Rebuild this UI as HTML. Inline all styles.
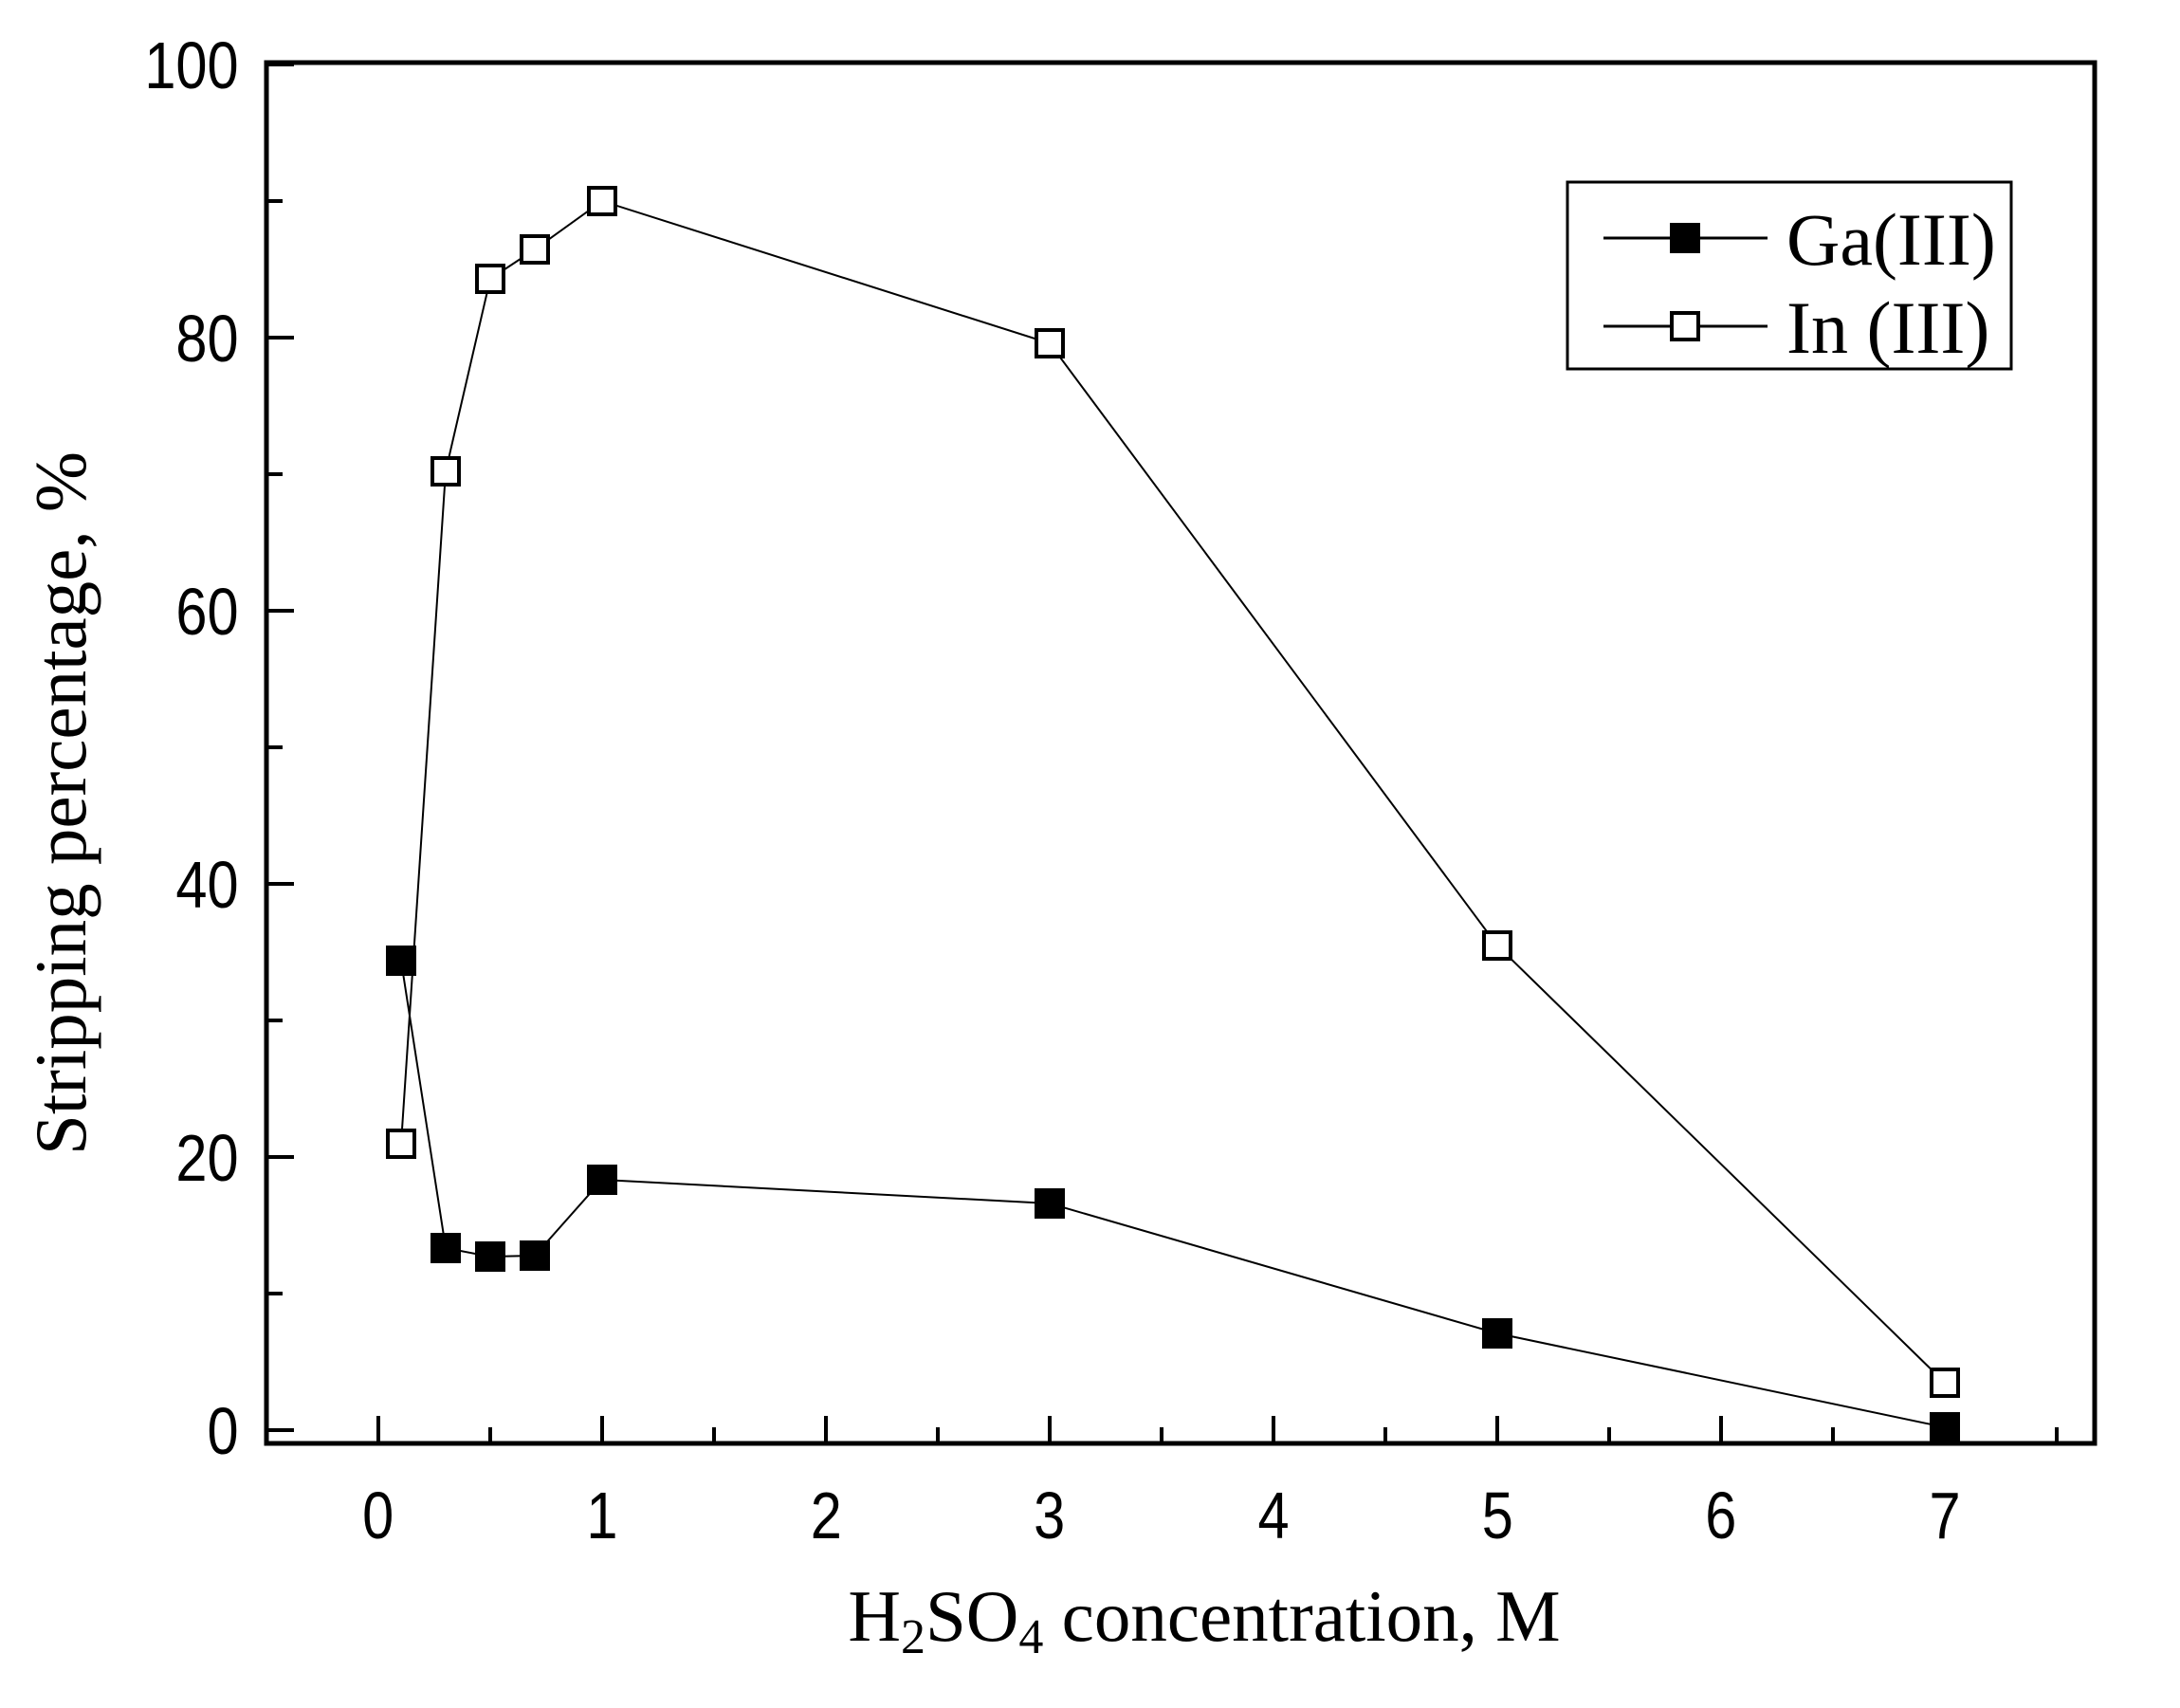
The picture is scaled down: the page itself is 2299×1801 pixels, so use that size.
<!DOCTYPE html>
<html><head><meta charset="utf-8"><style>html,body{margin:0;padding:0;background:#fff}svg{display:block}</style></head>
<body>
<svg width="2299" height="1801" viewBox="0 0 2299 1801" xmlns="http://www.w3.org/2000/svg">
<rect width="2299" height="1801" fill="#fff"/>
<g stroke="#000" stroke-width="5" fill="none">
<rect x="281" y="66" width="1928" height="1456"/>
</g>
<g stroke="#000" stroke-width="4">
<line x1="281" y1="1508" x2="310" y2="1508"/>
<line x1="281" y1="1364" x2="298" y2="1364"/>
<line x1="281" y1="1220" x2="310" y2="1220"/>
<line x1="281" y1="1076" x2="298" y2="1076"/>
<line x1="281" y1="932" x2="310" y2="932"/>
<line x1="281" y1="788" x2="298" y2="788"/>
<line x1="281" y1="644" x2="310" y2="644"/>
<line x1="281" y1="500" x2="298" y2="500"/>
<line x1="281" y1="356" x2="310" y2="356"/>
<line x1="281" y1="212" x2="298" y2="212"/>
<line x1="281" y1="68" x2="310" y2="68"/>
<line x1="399" y1="1522" x2="399" y2="1493"/>
<line x1="517" y1="1522" x2="517" y2="1505"/>
<line x1="635" y1="1522" x2="635" y2="1493"/>
<line x1="753" y1="1522" x2="753" y2="1505"/>
<line x1="871" y1="1522" x2="871" y2="1493"/>
<line x1="989" y1="1522" x2="989" y2="1505"/>
<line x1="1107" y1="1522" x2="1107" y2="1493"/>
<line x1="1225" y1="1522" x2="1225" y2="1505"/>
<line x1="1343" y1="1522" x2="1343" y2="1493"/>
<line x1="1461" y1="1522" x2="1461" y2="1505"/>
<line x1="1579" y1="1522" x2="1579" y2="1493"/>
<line x1="1697" y1="1522" x2="1697" y2="1505"/>
<line x1="1815" y1="1522" x2="1815" y2="1493"/>
<line x1="1933" y1="1522" x2="1933" y2="1505"/>
<line x1="2051" y1="1522" x2="2051" y2="1493"/>
<line x1="2169" y1="1522" x2="2169" y2="1505"/>
</g>
<g transform="scale(0.85,1)" font-family="Liberation Sans, sans-serif" font-size="70" fill="#000" text-anchor="end">
<text x="296" y="1533">0</text>
<text x="296" y="1245">20</text>
<text x="296" y="957">40</text>
<text x="296" y="669">60</text>
<text x="296" y="381">80</text>
<text x="296" y="93">100</text>
</g>
<g transform="scale(0.85,1)" font-family="Liberation Sans, sans-serif" font-size="70" fill="#000" text-anchor="middle">
<text x="469" y="1622">0</text>
<text x="747" y="1622">1</text>
<text x="1025" y="1622">2</text>
<text x="1302" y="1622">3</text>
<text x="1580" y="1622">4</text>
<text x="1858" y="1622">5</text>
<text x="2135" y="1622">6</text>
<text x="2413" y="1622">7</text>
</g>
<g font-family="Liberation Serif, serif" font-size="77" fill="#000">
<text x="1270" y="1730" text-anchor="middle">H<tspan font-size="52" dy="13">2</tspan><tspan dy="-13">SO</tspan><tspan font-size="52" dy="13">4</tspan><tspan dy="-13"> concentration, M</tspan></text>
<text transform="translate(90,847) rotate(-90)" text-anchor="middle">Stripping percentage, %</text>
</g>
<polyline fill="none" stroke="#000" stroke-width="2" points="423,1206 470,497 517,294 564,263 635,212 1107,362 1579,997 2051,1458"/>
<polyline fill="none" stroke="#000" stroke-width="2" points="423,1013 470,1316 517,1325 564,1324 635,1244 1107,1269 1579,1406 2051,1505"/>
<g fill="#fff" stroke="#000" stroke-width="4">
<rect x="409" y="1192" width="28" height="28"/>
<rect x="456" y="483" width="28" height="28"/>
<rect x="503" y="280" width="28" height="28"/>
<rect x="550" y="249" width="28" height="28"/>
<rect x="621" y="198" width="28" height="28"/>
<rect x="1093" y="348" width="28" height="28"/>
<rect x="1565" y="983" width="28" height="28"/>
<rect x="2037" y="1444" width="28" height="28"/>
</g>
<g fill="#000">
<rect x="407" y="997" width="32" height="32"/>
<rect x="454" y="1300" width="32" height="32"/>
<rect x="501" y="1309" width="32" height="32"/>
<rect x="548" y="1308" width="32" height="32"/>
<rect x="619" y="1228" width="32" height="32"/>
<rect x="1091" y="1253" width="32" height="32"/>
<rect x="1563" y="1390" width="32" height="32"/>
<rect x="2035" y="1489" width="32" height="32"/>
</g>
<rect x="1653" y="192" width="468" height="197" fill="#fff" stroke="#000" stroke-width="3"/>
<line x1="1691" y1="251" x2="1864" y2="251" stroke="#000" stroke-width="3"/>
<line x1="1691" y1="344" x2="1864" y2="344" stroke="#000" stroke-width="3"/>
<rect x="1761" y="235" width="32" height="32" fill="#000"/>
<rect x="1763" y="330" width="28" height="28" fill="#fff" stroke="#000" stroke-width="4"/>
<g font-family="Liberation Serif, serif" font-size="78" fill="#000">
<text x="1884" y="279">Ga(III)</text>
<text x="1884" y="372">In (III)</text>
</g>
</svg>
</body></html>
